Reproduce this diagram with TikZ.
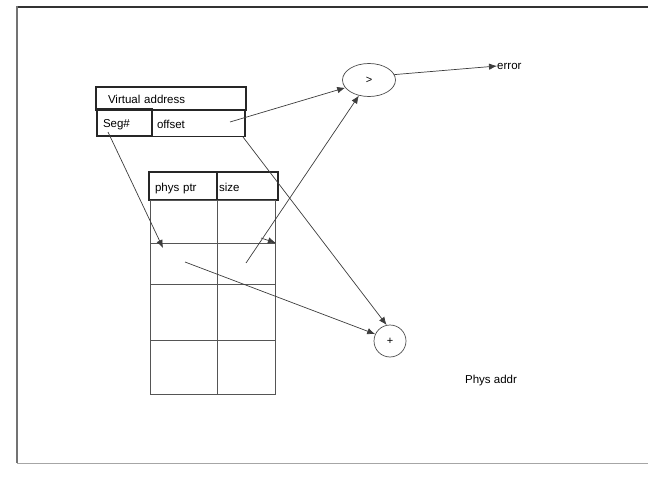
\documentclass[tikz,border=0pt]{standalone}
\usepackage{fontspec}
\setmainfont{Liberation Sans}
\usetikzlibrary{arrows.meta,shapes.geometric}
\definecolor{linec}{HTML}{3C3C3C}
\definecolor{cellc}{HTML}{555555}
\tikzset{
  ar/.style={-{Latex[length=8pt,width=6.5pt]},line width=0.7pt,linec},
  bx/.style={rectangle,draw=black!85,line width=1.1pt,inner ysep=0pt,align=left,text height=11pt,text depth=1pt,font=\fontsize{11.5}{13}\selectfont},
  cl/.style={rectangle,draw=cellc,line width=0.9pt,inner sep=0pt,anchor=north west},
  op/.style={draw=black!70,line width=0.7pt,inner sep=0pt,font=\fontsize{11}{13}\selectfont},
  lb/.style={inner sep=0pt,font=\fontsize{11.5}{13}\selectfont}
}
\begin{document}
\begin{tikzpicture}[x=1pt,y=-1pt]
\useasboundingbox (0,0) rectangle (648,492);
% frame
\draw[line width=2pt,black!80] (17,7) -- (650,7);
\draw[line width=2pt,black!55] (17,6) -- (17,463);
\draw[line width=1pt,black!35] (17,463) -- (650,463);
% virtual address
\node[bx,minimum height=23pt,inner xsep=12pt,text width=126pt] (va) at (171,98.5) {Virtual address};
\node[bx,minimum height=27pt,inner xsep=6pt,text width=43pt] (seg) at (124.5,122.5) {Seg\#};
\node[bx,minimum height=26pt,inner xsep=5pt,text width=83pt] (off) at (198.5,123.5) {offset};
% segment table
\node[bx,minimum height=28pt,inner xsep=6pt,text width=56pt] (hp) at (183,186) {phys ptr};
\node[bx,minimum height=28pt,inner xsep=2pt,text width=57pt] (hs) at (247.5,186) {size};
\foreach \r/\t/\b in {1/200/243,2/243/284,3/284/340,4/340/394}{
  \pgfmathsetmacro\h{\b-\t}
  \node[cl,minimum width=67pt,minimum height=\h pt] (p\r) at (150,\t) {};
  \node[cl,minimum width=58pt,minimum height=\h pt] (s\r) at (217,\t) {};
}
% comparator and adder
\node[op,ellipse,minimum width=53pt,minimum height=33pt] (cmp) at (369,80) {>};
\node[op,circle,minimum size=32pt] (add) at (390,341) {+};
\node[lb,anchor=west] (err) at (497,66) {error};
\node[lb] (pa) at (491,381) {Phys addr};
% connectors
\coordinate (o1) at (230,122);
\coordinate (o2) at (243,137);
\coordinate (g1) at (108,132);
\coordinate (g2) at (163,248);
\coordinate (q1) at (185,262);
\coordinate (z1) at (246,263);
\coordinate (z2) at (261,238);
\draw[ar] (o1) -- (cmp.198);
\draw[ar] (z1) -- (cmp.237);
\draw[ar] (cmp.12) -- (err.west);
\draw[ar] (g1) -- (g2);
\draw[ar] (z2) -- (s2.north east);
\draw[ar] (o2) -- (add.102);
\draw[ar] (q1) -- (add.155);
\end{tikzpicture}
\end{document}
